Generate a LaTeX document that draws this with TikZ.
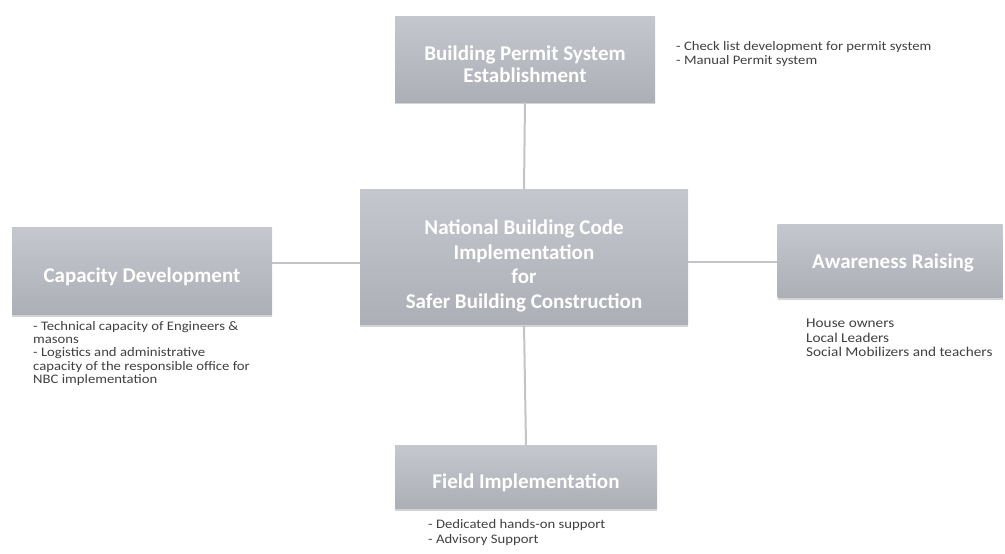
\documentclass[tikz,border=0pt]{standalone}
\usepackage{fontspec}
\setmainfont{Carlito}
\newfontfamily\notefont[FakeStretch=1.13]{Carlito}
\usetikzlibrary{shadows}
\definecolor{boxtop}{HTML}{C4C7CD}
\definecolor{boxbot}{HTML}{ACAFB6}
\definecolor{linkc}{HTML}{C2C4C8}
\definecolor{notec}{HTML}{404040}
\tikzset{
  mainbox/.style={draw=none, top color=boxtop, bottom color=boxbot, inner sep=0pt,
    drop shadow={shadow xshift=0pt, shadow yshift=-2pt, opacity=0.35, fill=gray}},
  boxlabel/.style={text=white, align=center, inner sep=0pt,
    font=\fontsize{21}{24.5}\selectfont\bfseries},
  link/.style={draw=linkc, line width=2pt},
  note/.style={text=notec, align=left, anchor=north west, inner sep=0pt}
}
\begin{document}
\begin{tikzpicture}[x=1pt,y=-1pt]
\useasboundingbox (0,0) rectangle (1005,554);
\node[mainbox, minimum width=260pt, minimum height=86pt] (top) at (525,59) {};
\node[mainbox, minimum width=328pt, minimum height=135pt] (ctr) at (524,257) {};
\node[mainbox, minimum width=260pt, minimum height=87pt] (lft) at (142,271) {};
\node[mainbox, minimum width=225pt, minimum height=73pt] (rgt) at (890,261) {};
\node[mainbox, minimum width=262pt, minimum height=63pt] (bot) at (526,477) {};
\node[boxlabel, font=\fontsize{21}{22}\selectfont\bfseries] (topt) at ([yshift=-5pt]top.center) {Building Permit System\\Establishment};
\node[boxlabel] (ctrt) at ([yshift=-9pt]ctr.center) {National Building Code\\Implementation\\for\\Safer Building Construction};
\node[boxlabel] (lftt) at ([yshift=-6pt]lft.center) {Capacity Development};
\node[boxlabel] (rgtt) at ([xshift=3pt,yshift=-2pt]rgt.center) {Awareness Raising};
\node[boxlabel] (bott) at ([yshift=-6pt]bot.center) {Field Implementation};
\draw[link] (top.south) -- (ctr.north);
\draw[link] (ctr.south) -- (bot.north);
\draw[link] (lft.east |- 0,263) coordinate (l1) -- (ctr.west |- l1);
\draw[link] (ctr.east |- 0,262) coordinate (r1) -- (rgt.west |- r1);
\node[note, font=\notefont\fontsize{13}{14}\selectfont] (n1) at (676,41) {- Check list development for permit system\\- Manual Permit system};
\node[note, font=\notefont\fontsize{13}{13.3}\selectfont] (n2) at (33,321) {- Technical capacity of Engineers \&\\masons\\- Logistics and administrative\\capacity of the responsible office for\\NBC implementation};
\node[note, font=\notefont\fontsize{13.5}{14.3}\selectfont] (n3) at (806,319) {House owners\\Local Leaders\\Social Mobilizers and teachers};
\node[note, font=\notefont\fontsize{13}{15}\selectfont] (n4) at (428,519) {- Dedicated hands-on support\\- Advisory Support};
\end{tikzpicture}
\end{document}
